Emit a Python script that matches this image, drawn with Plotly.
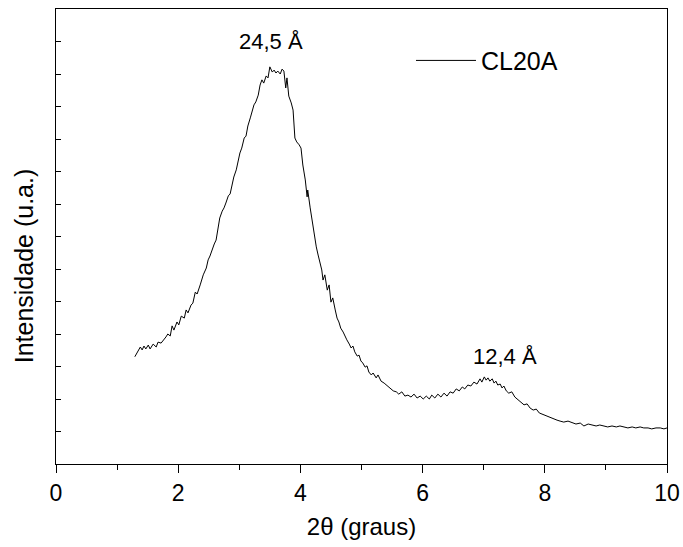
import plotly.graph_objects as go

two_theta = [1.29, 1.34, 1.38, 1.41, 1.44, 1.47, 1.51, 1.54, 1.59, 1.64, 1.67, 1.72, 1.77, 1.80, 1.83, 1.87,
             1.90, 1.93, 1.98, 2.01, 2.05, 2.10, 2.13, 2.16, 2.21, 2.24, 2.28, 2.31, 2.36, 2.41, 2.46, 2.49,
             2.52, 2.55, 2.59, 2.62, 2.65, 2.68, 2.72, 2.75, 2.78, 2.82, 2.85, 2.88, 2.91, 2.95, 2.98, 3.01,
             3.04, 3.08, 3.11, 3.14, 3.18, 3.21, 3.24, 3.27, 3.31, 3.34, 3.37, 3.40, 3.44, 3.47, 3.50, 3.54,
             3.57, 3.60, 3.63, 3.67, 3.70, 3.73, 3.76, 3.78, 3.81, 3.85, 3.88, 3.91, 3.94, 3.98, 4.01, 4.04,
             4.08, 4.11, 4.12, 4.16, 4.19, 4.22, 4.26, 4.29, 4.32, 4.35, 4.37, 4.40, 4.44, 4.47, 4.50, 4.53,
             4.57, 4.60, 4.63, 4.66, 4.70, 4.73, 4.76, 4.80, 4.83, 4.86, 4.89, 4.93, 4.96, 4.99, 5.02, 5.06,
             5.09, 5.12, 5.16, 5.19, 5.24, 5.27, 5.32, 5.37, 5.42, 5.47, 5.52, 5.57, 5.61, 5.66, 5.71, 5.76,
             5.81, 5.86, 5.91, 5.96, 6.01, 6.06, 6.11, 6.15, 6.20, 6.25, 6.30, 6.35, 6.40, 6.45, 6.50, 6.55,
             6.60, 6.65, 6.69, 6.74, 6.79, 6.84, 6.89, 6.94, 6.97, 7.01, 7.04, 7.07, 7.10, 7.14, 7.17, 7.20,
             7.23, 7.27, 7.30, 7.33, 7.37, 7.41, 7.46, 7.51, 7.56, 7.61, 7.66, 7.71, 7.76, 7.81, 7.86, 7.91,
             7.95, 8.00, 8.05, 8.10, 8.15, 8.20, 8.25, 8.31, 8.38, 8.45, 8.51, 8.58, 8.64, 8.71, 8.77, 8.84,
             8.90, 8.97, 9.03, 9.10, 9.17, 9.23, 9.30, 9.36, 9.43, 9.49, 9.56, 9.62, 9.69, 9.75, 9.82, 9.89,
             9.95, 10.00]

intensity = [330, 345, 360, 351, 363, 354, 366, 354, 369, 360, 375, 372, 382, 391, 400, 394,
             425, 412, 437, 428, 455, 449, 474, 465, 489, 495, 529, 523, 551, 582, 603, 628,
             640, 658, 677, 689, 726, 757, 778, 788, 803, 825, 831, 858, 883, 905, 935, 957,
             972, 1003, 1009, 1040, 1065, 1083, 1105, 1114, 1135, 1166, 1182, 1172, 1194, 1188, 1222, 1206,
             1212, 1203, 1209, 1200, 1215, 1209, 1157, 1188, 1132, 1111, 1089, 1003, 991, 982, 972, 920,
             874, 822, 843, 788, 751, 720, 668, 643, 622, 597, 566, 582, 535, 551, 498, 511,
             474, 449, 437, 418, 406, 391, 382, 369, 357, 363, 345, 332, 335, 317, 311, 298,
             302, 283, 274, 280, 265, 274, 255, 249, 240, 234, 225, 222, 215, 222, 209, 212,
             206, 215, 203, 209, 200, 209, 200, 212, 203, 215, 206, 218, 209, 222, 218, 231,
             225, 237, 231, 243, 240, 252, 246, 262, 252, 268, 258, 265, 255, 262, 249, 255,
             243, 246, 234, 240, 225, 218, 222, 206, 197, 191, 182, 185, 172, 166, 169, 157,
             154, 148, 145, 142, 138, 135, 132, 129, 132, 126, 123, 126, 117, 123, 120, 117,
             120, 117, 114, 117, 114, 117, 114, 111, 114, 111, 114, 111, 111, 108, 111, 111,
             108, 111]

series_name = "CL20A"
x_ticks = [0, 2, 4, 6, 8, 10]
peak_labels = ["24,5 Å", "12,4 Å"]
peak_x = [3.52, 7.35]
peak_y = [1255, 285]

FONT = "Liberation Sans, Arial, sans-serif"

fig = go.Figure()
fig.add_trace(go.Scatter(
    x=two_theta, y=intensity, mode="lines", name=series_name,
    line=dict(color="black", width=1),
))

for t, px, py in zip(peak_labels, peak_x, peak_y):
    fig.add_annotation(x=px, y=py, text=t, showarrow=False,
                       font=dict(family=FONT, size=22, color="black"),
                       xanchor="center", yanchor="bottom")

# y-axis title placed as an annotation (it sits below the axis centre in the original)
fig.add_annotation(xref="paper", yref="paper", x=-0.052, y=0.435,
                   text="Intensidade (u.a.)", textangle=-90, showarrow=False,
                   font=dict(family=FONT, size=25, color="black"),
                   xanchor="center", yanchor="middle")

fig.update_layout(
    width=683, height=547,
    margin=dict(l=56, r=16, t=9, b=83),
    paper_bgcolor="white", plot_bgcolor="white",
    font=dict(family=FONT, size=22, color="black"),
    showlegend=True,
    legend=dict(x=0.581, y=0.937, xanchor="left", yanchor="top", itemwidth=60,
                bgcolor="rgba(0,0,0,0)", font=dict(size=25)),
)

fig.update_xaxes(
    range=[0, 10], tickvals=x_ticks, ticktext=[str(v) for v in x_ticks],
    ticks="outside", ticklen=8, tickwidth=1, tickcolor="black",
    minor=dict(dtick=1, ticks="outside", ticklen=5, tickwidth=1, tickcolor="black"),
    showline=True, linecolor="black", linewidth=1, mirror=True,
    showgrid=False, zeroline=False, automargin=False,
    title=dict(text="2θ (graus)", font=dict(size=24), standoff=13),
    tickfont=dict(size=23),
)
fig.update_yaxes(
    range=[0, 1400], dtick=100, tick0=0,
    ticks="inside", ticklen=5, tickwidth=1, tickcolor="black",
    showticklabels=False, automargin=False,
    showline=True, linecolor="black", linewidth=1, mirror=True,
    showgrid=False, zeroline=False,
)

fig.write_html("out.html")
